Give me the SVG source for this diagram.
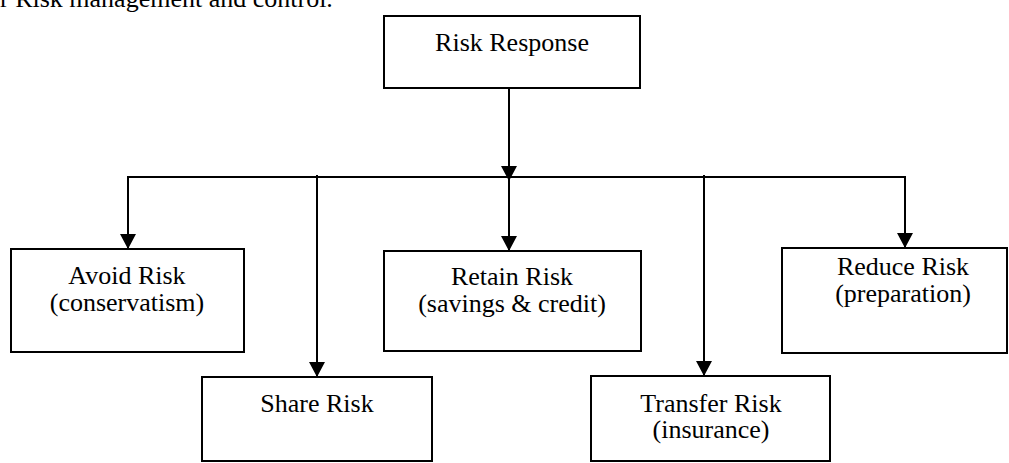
<svg xmlns="http://www.w3.org/2000/svg" width="1009" height="463" viewBox="0 0 1009 463">
<style>
.box{fill:#fff;stroke:#000;stroke-width:2}
.lbl{font-family:"Liberation Serif","Times New Roman",serif;font-size:26px;fill:#000;text-anchor:middle}
.con{fill:none;stroke:#000;stroke-width:2}
.arr{marker-end:url(#ah)}
</style>
<defs>
<marker id="ah" markerUnits="userSpaceOnUse" viewBox="0 0 15 16" markerWidth="15" markerHeight="16" refX="15" refY="8" orient="auto">
<path d="M0,0 L15,8 L0,16 z" fill="#000"/>
</marker>
</defs>
<rect width="1009" height="463" fill="#fff"/>
<text x="0" y="7" style="font-family:'Liberation Serif','Times New Roman',serif;font-size:26px;fill:#000">r Risk management and control.</text>
<g id="connectors">
<path class="con arr" d="M509,88 L509,181"/>
<path class="con arr" d="M509,177 L509,251"/>
<path class="con" d="M127,177 L906,177"/>
<path class="con arr" d="M128,176 L128,249"/>
<path class="con arr" d="M317,175 L317,377"/>
<path class="con arr" d="M704,175 L704,376"/>
<path class="con arr" d="M905,176 L905,248"/>
</g>
<g id="risk-response">
<rect class="box" x="384" y="16" width="256" height="72"/>
<text class="lbl" x="512" y="51">Risk Response</text>
</g>
<g id="avoid-risk">
<rect class="box" x="11" y="249" width="233" height="103"/>
<text class="lbl" x="127" y="284">Avoid Risk</text>
<text class="lbl" x="127" y="311">(conservatism)</text>
</g>
<g id="retain-risk">
<rect class="box" x="384" y="251" width="257" height="100"/>
<text class="lbl" x="512" y="285">Retain Risk</text>
<text class="lbl" x="512" y="312">(savings &amp; credit)</text>
</g>
<g id="reduce-risk">
<rect class="box" x="782" y="248" width="225" height="105"/>
<text class="lbl" x="903" y="275">Reduce Risk</text>
<text class="lbl" x="903" y="302">(preparation)</text>
</g>
<g id="share-risk">
<rect class="box" x="202" y="377" width="230" height="84"/>
<text class="lbl" x="317" y="412">Share Risk</text>
</g>
<g id="transfer-risk">
<rect class="box" x="591" y="376" width="239" height="85"/>
<text class="lbl" x="711" y="412">Transfer Risk</text>
<text class="lbl" x="711" y="438">(insurance)</text>
</g>
</svg>
